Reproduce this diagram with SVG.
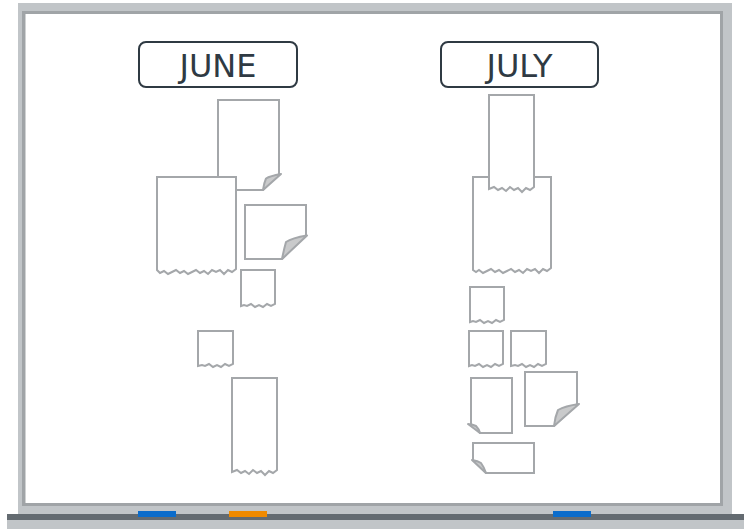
<svg xmlns="http://www.w3.org/2000/svg" width="744" height="529" viewBox="0 0 744 529">
<style>
.note{fill:#fff;stroke:#a4a7aa;stroke-width:2;stroke-linejoin:miter}
.curl{fill:#c9cacb;stroke:#a4a7aa;stroke-width:2;stroke-linejoin:round}
.lbl rect{fill:#fff;stroke:#2f3a43;stroke-width:2}
.lbl text{font-family:"DejaVu Sans",sans-serif;font-size:32px;fill:#2f3a43;text-anchor:middle}
</style>
<g id="board">
<rect x="18" y="3" width="714" height="511" fill="#c1c5c8"/>
<rect x="22" y="11" width="701" height="495" fill="#a0a4a7"/>
<rect x="25.5" y="14" width="694.5" height="489" fill="#fff"/>
<rect x="7" y="514" width="737" height="6" fill="#646b71"/>
<rect x="7" y="520" width="737" height="9" fill="#c1c5c8"/>
<rect x="138" y="511" width="38" height="6" fill="#0b6ccb"/>
<rect x="229" y="511" width="38" height="6" fill="#f08a00"/>
<rect x="553" y="511" width="38" height="6" fill="#0b6ccb"/>
</g>
<g id="label-june" class="lbl"><rect x="139" y="42" width="158" height="45" rx="7"/><text x="218" y="77">JUNE</text></g>
<g id="label-july" class="lbl"><rect x="441" y="42" width="157" height="45" rx="7"/><text x="519.5" y="77">JULY</text></g>
<g id="june-notes">
<g id="june-1"><path class="note" d="M218,100 H279 V174 L263,190 H218 Z"/><path class="curl" d="M263,190 L281,174 Q270,176 266,178.5 Q264,183 263,190 Z"/></g>
<g id="june-2"><path class="note" d="M157,177 H236 V269 L232,272 L228,270 L224,274 L220,270 L216,272 L212,270 L208,274 L204,271 L200,273 L196,270 L192,272 L188,274 L184,271 L180,273 L176,270 L172,272 L168,274 L164,271 L160,273 L157,270 Z"/></g>
<g id="june-3"><path class="note" d="M245,205 H306 V235 L282,259 H245 Z"/><path class="curl" d="M282,259 L307,235.5 Q292,238 286,242 Q284,249 282,259 Z"/></g>
<g id="june-4"><path class="note" d="M241,270 H275 V304 L271,306 L267,304 L263,307 L259,305 L255,307 L251,304 L247,306 L244,305 L241,306 Z"/></g>
<g id="june-5"><path class="note" d="M198,331 H233 V364 L229,366 L225,364 L221,367 L217,365 L213,367 L209,364 L205,366 L202,365 L198,366 Z"/></g>
<g id="june-6"><path class="note" d="M232,378 H277 V470 L273,473 L269,471 L265,475 L261,471 L257,473 L253,470 L249,474 L245,471 L241,473 L237,470 L232,472 Z"/></g>
</g>
<g id="july-notes">
<g id="july-2"><path class="note" d="M473,177 H551 V268 L547,271 L543,269 L539,273 L535,269 L531,271 L527,269 L523,273 L519,270 L515,272 L511,269 L507,271 L503,273 L499,270 L495,272 L491,269 L487,271 L483,273 L479,270 L476,272 L473,270 Z"/></g>
<g id="july-1"><path class="note" d="M489,95 H534 V187 L530,190 L526,188 L522,192 L518,188 L514,190 L510,187 L506,191 L502,188 L498,190 L494,187 L489,189 Z"/></g>
<g id="july-3"><path class="note" d="M470,287 H504 V320 L500,322 L496,320 L492,323 L488,321 L484,323 L480,320 L476,322 L473,321 L470,322 Z"/></g>
<g id="july-4"><path class="note" d="M469,331 H503 V364 L499,366 L495,364 L491,367 L487,365 L483,367 L479,364 L475,366 L472,365 L469,366 Z"/></g>
<g id="july-5"><path class="note" d="M511,331 H546 V364 L542,366 L538,364 L534,367 L530,365 L526,367 L522,364 L518,366 L515,365 L511,366 Z"/></g>
<g id="july-6"><path class="note" d="M471,378 H512 V433 H480 L471,424 Z"/><path class="curl" d="M480,433 L468,424 Q473,424.5 476,426 Q479,429 480,433 Z"/></g>
<g id="july-7"><path class="note" d="M525,372 H577 V404 L554,426 H525 Z"/><path class="curl" d="M554,426 L579,404 Q565,406 558,410 Q555,417 554,426 Z"/></g>
<g id="july-8"><path class="note" d="M473,443 H534 V473 H486 L473,460 Z"/><path class="curl" d="M486,473 L472,460 Q478,461 481,463 Q484,467 486,473 Z"/></g>
</g>
<g id="connectors"/>
</svg>
